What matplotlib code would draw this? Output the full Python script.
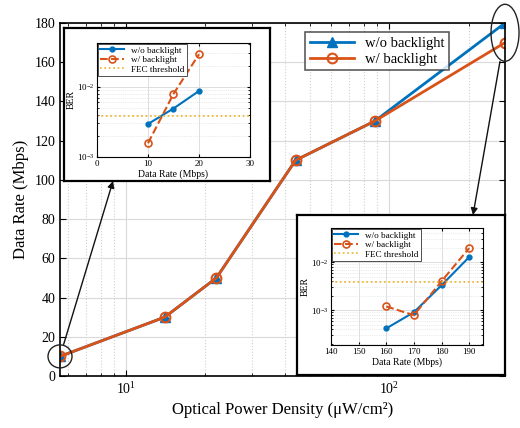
import numpy as np
import matplotlib
matplotlib.use("Agg")
import matplotlib.pyplot as plt
from matplotlib.patches import Ellipse
from matplotlib.transforms import ScaledTranslation
from matplotlib.ticker import LogLocator, NullFormatter

plt.rcParams['font.family'] = ['Liberation Serif', 'DejaVu Serif']
plt.rcParams['mathtext.fontset'] = 'stix'

# main curve: data rate vs optical power density
power = [5.6, 14, 22, 44, 88, 275]
rate_wo = [10, 30, 50, 110, 130, 180]
rate_w = [10, 30, 50, 110, 130, 170]

# BER, low-rate zoom
rate_lo = [10, 15, 20]
ber_lo_wo = [2.95e-3, 4.9e-3, 8.7e-3]
ber_lo_w = [1.57e-3, 7.9e-3, 2.9e-2]

# BER, high-rate zoom
rate_hi = [160, 170, 180, 190]
ber_hi_wo = [4.2e-4, 9.1e-4, 3.3e-3, 1.27e-2]
ber_hi_w = [1.2e-3, 7.9e-4, 4.0e-3, 1.95e-2]

fec = 3.8e-3

blue = '#0072BD'
orange = '#D95319'
yellow = '#EDB120'

fig = plt.figure(figsize=(5.2, 4.28), dpi=100)
ax = fig.add_axes([0.1154, 0.1215, 0.8558, 0.8248])

ax.plot(power, rate_wo, '-^', color=blue, lw=2, ms=7, mfc=blue, label='w/o backlight')
ax.plot(power, rate_w, '-o', color=orange, lw=2, ms=7, mfc='none', mew=1.5, label='w/ backlight')
ax.set_xscale('log')
ax.set_xlim(power[0], power[-1])
ax.set_ylim(0, 180)
ax.set_yticks(np.arange(0, 181, 20))
ax.grid(True, which='major', color='#d9d9d9', lw=0.8)
ax.grid(True, which='minor', axis='x', color='#d0d0d0', lw=0.8, ls=':')
ax.tick_params(which='both', direction='in', top=True, right=True, labelsize=10)
ax.tick_params(which='major', length=4)
ax.tick_params(which='minor', length=2.5)
for s in ax.spines.values():
    s.set_linewidth(1.2)
ax.set_xlabel('Optical Power Density (μW/cm²)', fontsize=12)
ax.set_ylabel('Data Rate (Mbps)', fontsize=12)
leg = ax.legend(loc='upper left', bbox_to_anchor=(0.535, 0.995), fontsize=10.5,
                handlelength=3, frameon=True, fancybox=False, edgecolor='#333333',
                borderpad=0.3, labelspacing=0.2)
leg.get_frame().set_linewidth(1.2)

# ellipses around the zoomed points
def mark(xd, yd, w, h):
    tr = fig.dpi_scale_trans + ScaledTranslation(xd, yd, ax.transData)
    e = Ellipse((0, 0), w, h, transform=tr, fill=False, ec='#222222', lw=1.0,
                clip_on=False, zorder=5)
    fig.add_artist(e)

mark(power[0], rate_w[0], 0.24, 0.23)
mark(power[-1], 175, 0.28, 0.57)


def inset(frame_rect, ax_rect, x, wo, w, xlim, ylim, xticks):
    frame = fig.add_axes(frame_rect, zorder=3)
    frame.set_xticks([])
    frame.set_yticks([])
    for s in frame.spines.values():
        s.set_linewidth(1.6)
    ia = fig.add_axes(ax_rect, zorder=4)
    ia.plot(x, wo, '-o', color=blue, lw=1.5, ms=3.5, label='w/o backlight')
    ia.plot(x, w, '--o', color=orange, lw=1.5, ms=5, mfc='none', mew=1.2,
            label='w/ backlight')
    ia.axhline(fec, color=yellow, lw=1.2, ls=':', label='FEC threshold')
    ia.set_yscale('log')
    ia.set_xlim(*xlim)
    ia.set_ylim(*ylim)
    ia.set_xticks(xticks)
    ia.yaxis.set_major_locator(LogLocator(base=10))
    ia.yaxis.set_minor_locator(LogLocator(base=10, subs=np.arange(2, 10)))
    ia.yaxis.set_minor_formatter(NullFormatter())
    ia.grid(True, which='major', color='#d9d9d9', lw=0.6)
    ia.grid(True, which='minor', axis='y', color='#d9d9d9', lw=0.5, ls=':')
    ia.tick_params(which='both', direction='in', top=True, right=True, labelsize=6.5, pad=2)
    ia.tick_params(which='major', length=2.5)
    ia.tick_params(which='minor', length=1.5)
    for s in ia.spines.values():
        s.set_linewidth(0.8)
    ia.set_xlabel('Data Rate (Mbps)', fontsize=7, labelpad=1)
    ia.set_ylabel('BER', fontsize=7, labelpad=1)
    lg = ia.legend(loc='upper left', fontsize=6.6, handlelength=2.6, fancybox=False,
                   edgecolor='#333333', borderpad=0.25, labelspacing=0.12,
                   borderaxespad=0.1, framealpha=1)
    lg.get_frame().set_linewidth(0.6)
    return frame


frame1 = inset([0.1231, 0.5771, 0.3962, 0.3575], [0.1865, 0.6332, 0.2942, 0.2664],
               rate_lo, ber_lo_wo, ber_lo_w, (0, 30), (1e-3, 4.2e-2), [0, 10, 20, 30])
frame2 = inset([0.5712, 0.1238, 0.4, 0.3738], [0.6365, 0.1939, 0.2923, 0.2734],
               rate_hi, ber_hi_wo, ber_hi_w, (140, 195), (1.9e-4, 5.1e-2),
               [140, 150, 160, 170, 180, 190])

# arrows from the marked points to their zoom views
arrow = dict(arrowstyle='-|>', color='#111111', lw=1.0, mutation_scale=10,
             shrinkA=9, shrinkB=0)
ax.annotate('', xy=(0.238, 0.0), xycoords=frame1, xytext=(power[0], rate_w[0]),
            textcoords='data', arrowprops=arrow, zorder=6, annotation_clip=False)
arrow2 = dict(arrow, shrinkA=21)
ax.annotate('', xy=(0.846, 1.0), xycoords=frame2, xytext=(power[-1], 175),
            textcoords='data', arrowprops=arrow2, zorder=6, annotation_clip=False)

fig.savefig('out.png', dpi=100, facecolor='white')
